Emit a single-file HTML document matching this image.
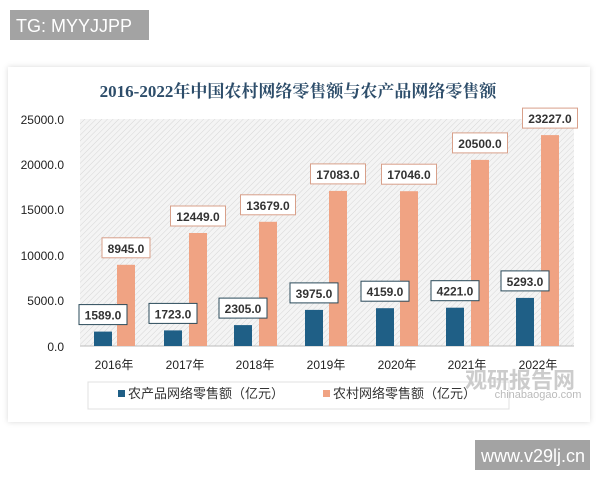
<!DOCTYPE html>
<html><head><meta charset="utf-8"><style>
body{margin:0;background:#fff;width:600px;height:480px;overflow:hidden;font-family:"Liberation Sans","Noto Sans CJK SC",sans-serif}
</style></head><body>
<svg width="600" height="480" xmlns="http://www.w3.org/2000/svg" font-family="Liberation Sans, Noto Sans CJK SC, sans-serif">
<defs>
<pattern id="h" width="4" height="4" patternUnits="userSpaceOnUse" patternTransform="rotate(45)">
<rect width="4" height="4" fill="#f4f4f4"/><line x1="0" y1="0" x2="0" y2="4" stroke="#d6d6d6" stroke-width="1"/>
</pattern>
<filter id="s" x="-5%" y="-5%" width="110%" height="110%"><feDropShadow dx="0" dy="0" stdDeviation="3" flood-color="#000" flood-opacity="0.15"/></filter>
</defs>
<rect x="10" y="10" width="139" height="30" fill="#a3a3a3"/>
<text x="16" y="32" font-size="18" fill="#fff">TG: MYYJJPP</text>
<rect x="8" y="67" width="582" height="355" fill="#fff" filter="url(#s)"/>
<text x="298" y="97" font-size="17" font-weight="bold" fill="#2d4d6a" text-anchor="middle" font-family="Liberation Serif, Noto Serif CJK SC, serif">2016-2022年中国农村网络零售额与农产品网络零售额</text>
<rect x="80" y="119" width="494" height="227" fill="url(#h)"/>
<line x1="80" y1="346" x2="574" y2="346" stroke="#bbb"/>
<g font-size="12" fill="#222" text-anchor="end">
<text x="64" y="124">25000.0</text><text x="64" y="169">20000.0</text><text x="64" y="214">15000.0</text>
<text x="64" y="260">10000.0</text><text x="64" y="305">5000.0</text><text x="64" y="351">0.0</text>
</g>
<g fill="#1f5f86">
<rect x="94" y="331.6" width="18" height="14.4"/>
<rect x="164" y="330.4" width="18" height="15.6"/>
<rect x="234" y="325.1" width="18" height="20.9"/>
<rect x="305" y="309.9" width="18" height="36.1"/>
<rect x="376" y="308.2" width="18" height="37.8"/>
<rect x="446" y="307.7" width="18" height="38.3"/>
<rect x="516" y="297.9" width="18" height="48.1"/>
</g>
<g fill="#f0a383">
<rect x="117" y="264.8" width="18" height="81.2"/>
<rect x="189" y="233" width="18" height="113"/>
<rect x="259" y="221.8" width="18" height="124.2"/>
<rect x="329" y="190.9" width="18" height="155.1"/>
<rect x="400" y="191.2" width="18" height="154.8"/>
<rect x="471" y="159.9" width="18" height="186.1"/>
<rect x="541" y="135.1" width="18" height="210.9"/>
</g>
<g fill="#fff" stroke="#2a4a5a">
<rect x="79" y="304.6" width="48" height="20"/>
<rect x="149" y="303.4" width="48" height="20"/>
<rect x="219" y="298.1" width="48" height="20"/>
<rect x="290" y="282.9" width="48" height="20"/>
<rect x="361" y="281.2" width="48" height="20"/>
<rect x="431" y="280.7" width="48" height="20"/>
<rect x="501" y="270.9" width="48" height="20"/>
</g>
<g fill="#fff" stroke="#d8a08a">
<rect x="102" y="237.8" width="48" height="20"/>
<rect x="170.5" y="206" width="55" height="20"/>
<rect x="240.5" y="194.8" width="55" height="20"/>
<rect x="310.5" y="163.9" width="55" height="20"/>
<rect x="381.5" y="164.2" width="55" height="20"/>
<rect x="452.5" y="132.9" width="55" height="20"/>
<rect x="522.5" y="108.1" width="55" height="20"/>
</g>
<g font-size="12" font-weight="bold" fill="#333" text-anchor="middle">
<text x="103" y="319.6">1589.0</text>
<text x="173" y="318.4">1723.0</text>
<text x="243" y="313.1">2305.0</text>
<text x="314" y="297.9">3975.0</text>
<text x="385" y="296.2">4159.0</text>
<text x="455" y="295.7">4221.0</text>
<text x="525" y="285.9">5293.0</text>
<text x="126" y="252.8">8945.0</text>
<text x="198" y="221">12449.0</text>
<text x="268" y="209.8">13679.0</text>
<text x="338" y="178.9">17083.0</text>
<text x="409" y="179.2">17046.0</text>
<text x="480" y="147.9">20500.0</text>
<text x="550" y="123.1">23227.0</text>
</g>
<g font-size="12" fill="#222" text-anchor="middle">
<text x="114" y="369">2016年</text><text x="185" y="369">2017年</text><text x="255" y="369">2018年</text>
<text x="326" y="369">2019年</text><text x="397" y="369">2020年</text><text x="467" y="369">2021年</text><text x="538" y="369">2022年</text>
</g>
<rect x="88" y="382" width="421" height="27" fill="#fff" stroke="#e0e0e0"/>
<rect x="118" y="390" width="7" height="7" fill="#1f5f86"/>
<text x="128" y="398" font-size="13" fill="#333">农产品网络零售额（亿元）</text>
<rect x="323" y="390" width="7" height="7" fill="#f0a383"/>
<text x="333" y="398" font-size="13" fill="#333">农村网络零售额（亿元）</text>
<text x="520" y="388" font-size="22" font-weight="bold" fill="#ccc" text-anchor="middle">观研报告网</text>
<text x="538" y="398" font-size="11" fill="#bbb" text-anchor="middle">chinabaogao.com</text>
<rect x="475" y="440" width="115" height="30" fill="#a3a3a3"/>
<text x="481" y="462" font-size="18" fill="#fff">www.v29lj.cn</text>
</svg>
</body></html>
